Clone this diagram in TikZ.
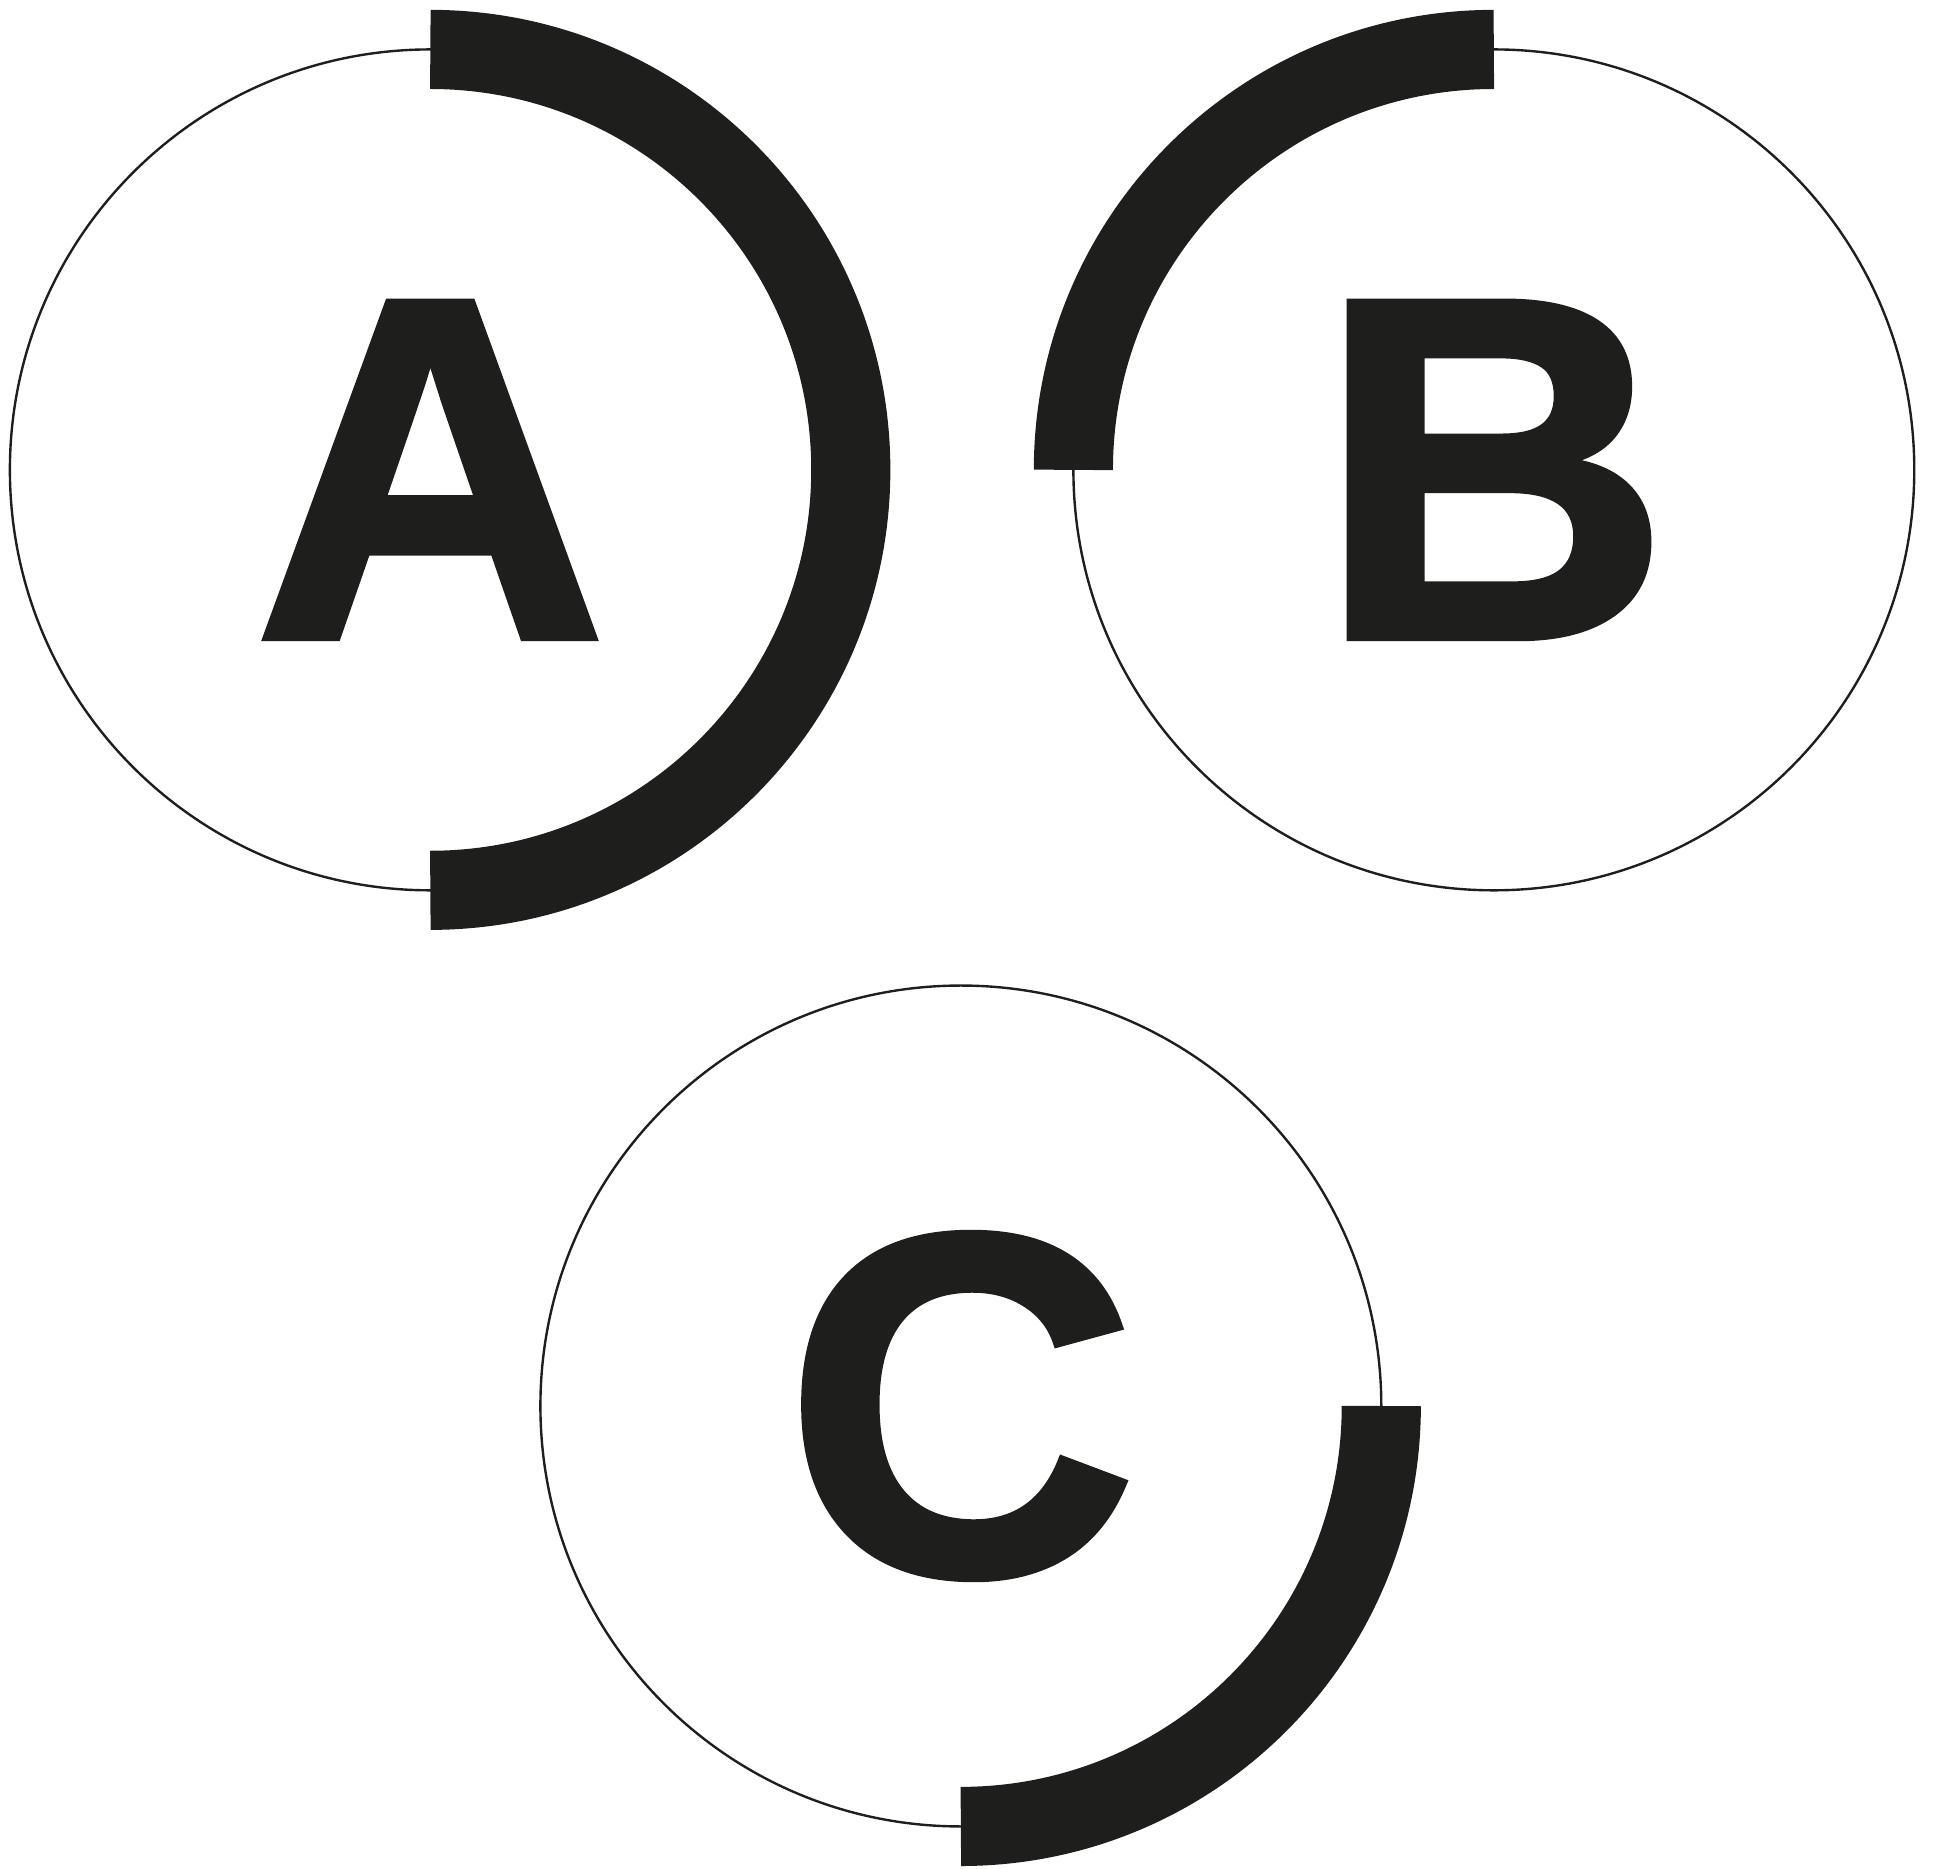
\documentclass[tikz,border=0pt]{standalone}
\usepackage{fontspec}
\setmainfont{Liberation Sans}[BoldFeatures={FakeBold=1.6}]
\usepackage{xcolor}
\definecolor{inkblack}{HTML}{1E1E1C}
\tikzset{
  ring/.style={circle, draw=inkblack, line width=0.55pt, minimum size=6.8cm, inner sep=0pt, outer sep=0pt,
    text=inkblack, font=\fontsize{112}{112}\selectfont\bfseries},
  ringband/.style={line width=0.64cm, draw=inkblack, line cap=butt},
}
\begin{document}
\begin{tikzpicture}
\useasboundingbox (0,0) rectangle (15.68,15.11);
\node[ring] (ca) at (3.48,11.31) {A};
\node[ring] (cb) at (12.08,11.31) {B};
\node[ring] (cc) at (7.77,3.74) {C};
\draw[ringband] (ca.north) arc[start angle=90, end angle=-90, radius=3.4];
\draw[ringband] (cb.north) arc[start angle=90, end angle=180, radius=3.4];
\draw[ringband] (cc.east) arc[start angle=0, end angle=-90, radius=3.4];
\end{tikzpicture}
\end{document}
